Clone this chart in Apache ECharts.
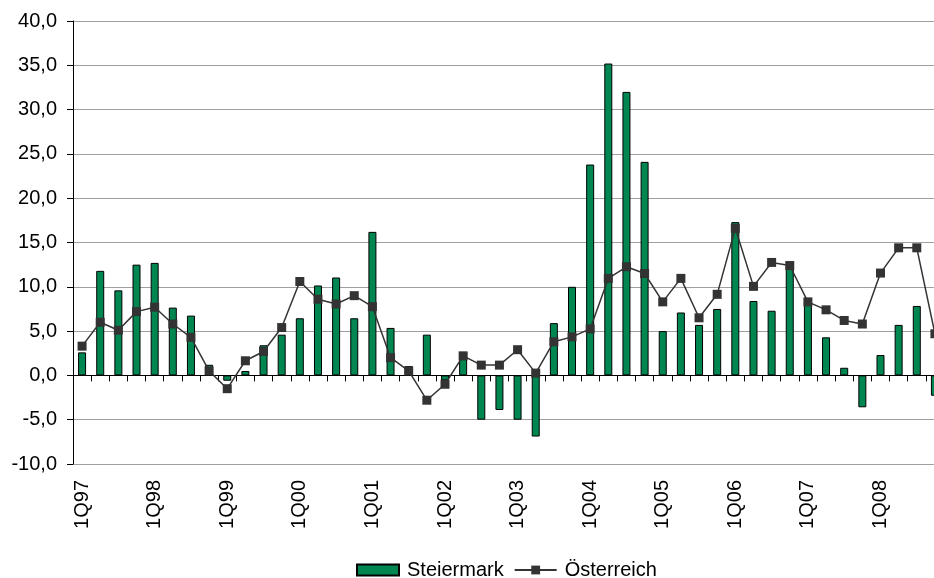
<!DOCTYPE html>
<html>
<head>
<meta charset="utf-8">
<script src="https://cdn.jsdelivr.net/npm/echarts@6/dist/echarts.min.js"></script>
<style>
  html, body { margin: 0; padding: 0; background: #fff; }
  #chart { width: 934px; height: 578px; }
</style>
</head>
<body>
<div id="chart"></div>
<script>
// quarters 1Q97 .. 4Q08
var quarters = [
    '1Q97', '2Q97', '3Q97', '4Q97', '1Q98', '2Q98', '3Q98', '4Q98',
    '1Q99', '2Q99', '3Q99', '4Q99', '1Q00', '2Q00', '3Q00', '4Q00',
    '1Q01', '2Q01', '3Q01', '4Q01', '1Q02', '2Q02', '3Q02', '4Q02',
    '1Q03', '2Q03', '3Q03', '4Q03', '1Q04', '2Q04', '3Q04', '4Q04',
    '1Q05', '2Q05', '3Q05', '4Q05', '1Q06', '2Q06', '3Q06', '4Q06',
    '1Q07', '2Q07', '3Q07', '4Q07', '1Q08', '2Q08', '3Q08', '4Q08'
];

var steiermark = [
    2.6, 11.8, 9.6, 12.5, 12.7, 7.65, 6.75, 1.2,
    -0.6, 0.5, 3.4, 4.6, 6.45, 10.15, 11.05, 6.45,
    16.2, 5.36, 1.05, 4.6, -0.55, 2.66, -5.0, -3.9,
    -5.0, -6.9, 5.9, 10.0, 23.8, 35.2, 32.0, 24.1,
    5.0, 7.1, 5.7, 7.5, 17.3, 8.4, 7.3, 12.3,
    8.3, 4.3, 0.86, -3.6, 2.3, 5.7, 7.84, -2.3
];

var oesterreich = [
    3.3, 6.0, 5.1, 7.2, 7.7, 5.8, 4.3, 0.5,
    -1.5, 1.65, 2.7, 5.4, 10.6, 8.6, 8.06, 9.0,
    7.76, 2.0, 0.5, -2.8, -1.0, 2.2, 1.16, 1.16,
    2.9, 0.26, 3.8, 4.35, 5.25, 10.95, 12.26, 11.5,
    8.3, 10.95, 6.5, 9.15, 16.6, 10.05, 12.75, 12.4,
    8.3, 7.4, 6.2, 5.8, 11.55, 14.4, 14.4, 4.7
];

var chartDom = document.getElementById('chart');
var chart = echarts.init(chartDom);
var font = 'Liberation Sans, Arial, sans-serif';

var option = {
    animation: false,
    textStyle: { fontFamily: font, color: '#000' },
    // plot runs a little past the right edge, like the original
    grid: { left: 73, width: 871, top: 21, bottom: 114, outerBoundsMode: 'none' },
    legend: {
        top: 555,
        left: 351,
        itemWidth: 42,
        itemHeight: 11,
        itemGap: 10,
        textStyle: { fontSize: 20, color: '#000', fontFamily: font, padding: [0, 0, 0, 3] },
        data: [
            { name: 'Steiermark', icon: 'rect' },
            { name: 'Österreich' }
        ]
    },
    xAxis: [
        {
            // labels at bottom
            type: 'category',
            data: quarters,
            position: 'bottom',
            axisLine: { show: false, onZero: false },
            axisTick: { show: false },
            axisLabel: {
                interval: 3,
                rotate: 90,
                fontSize: 20,
                color: '#000',
                margin: 16
            }
        },
        {
            // axis line + ticks on zero
            type: 'category',
            data: quarters,
            position: 'top',
            axisLine: { show: true, onZero: true, lineStyle: { color: '#000', width: 1 } },
            axisTick: { show: true, inside: true, length: 6, interval: 0, lineStyle: { color: '#000' } },
            axisLabel: { show: false }
        }
    ],
    yAxis: {
        type: 'value',
        min: -10,
        max: 40,
        interval: 5,
        axisLine: { show: true, lineStyle: { color: '#000' } },
        axisTick: { show: true, length: 6, lineStyle: { color: '#000' } },
        axisLabel: {
            fontSize: 20,
            color: '#000',
            margin: 16,
            formatter: function (v) {
                return v.toFixed(1).replace('.', ',');
            }
        },
        splitLine: { show: true, lineStyle: { color: '#a0a0a0', width: 1 } }
    },
    series: [
        {
            name: 'Steiermark',
            type: 'bar',
            barWidth: 8,
            itemStyle: { color: '#008751', borderColor: '#000', borderWidth: 1 },
            data: steiermark
        },
        {
            name: 'Österreich',
            type: 'line',
            symbol: 'rect',
            symbolSize: 9,
            itemStyle: { color: '#333333' },
            lineStyle: { color: '#333333', width: 1.5 },
            data: oesterreich
        }
    ]
};

chart.setOption(option);
</script>
</body>
</html>
